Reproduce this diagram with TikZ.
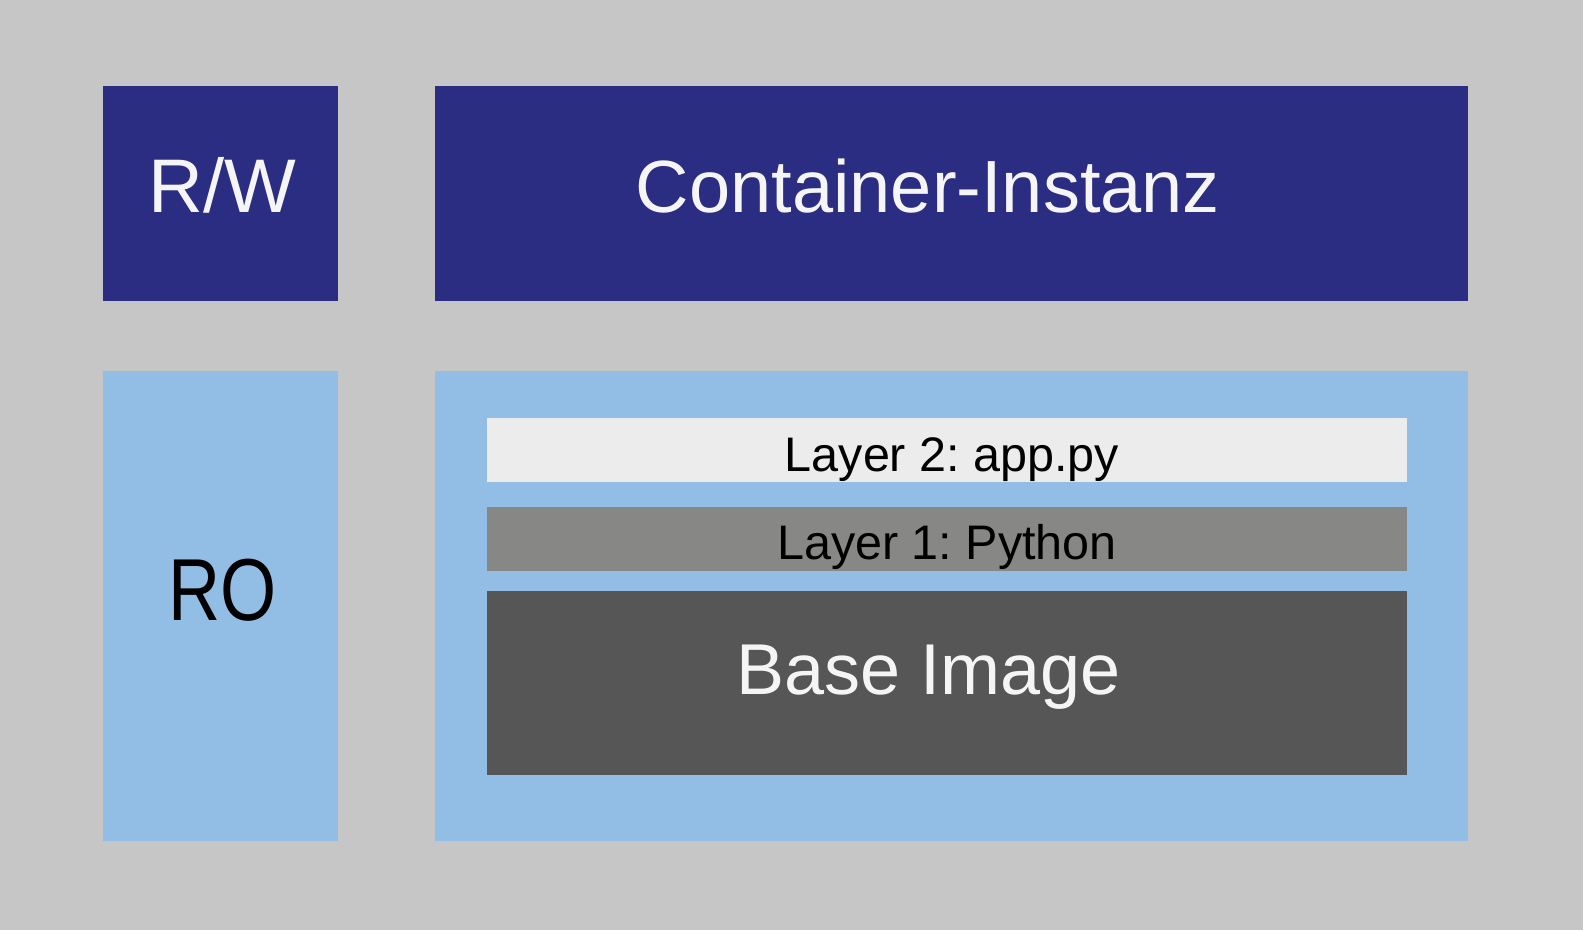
\documentclass[tikz,border=0pt]{standalone}
\usepackage{fontspec}
\setmainfont{Liberation Sans}
\newfontfamily\narrowfont[FakeStretch=0.82]{Liberation Sans}
\definecolor{bg}{HTML}{C6C6C6}
\definecolor{darkblue}{HTML}{2B2D82}
\definecolor{lightblue}{HTML}{92BEE5}
\definecolor{layertwo}{HTML}{ECECEC}
\definecolor{layerone}{HTML}{878785}
\definecolor{baseimg}{HTML}{565656}
\definecolor{offwhite}{HTML}{F5F5F5}
\begin{document}
\frenchspacing
\begin{tikzpicture}[x=1pt,y=-1pt,
  box/.style={rectangle, inner sep=0pt, outer sep=0pt, anchor=north west},
  lbl/.style={anchor=base, inner sep=0pt},
  midtext/.style={font=\fontsize{48.5}{54}\selectfont}]
\fill[bg] (0,0) rectangle (1583,930);
\useasboundingbox (0,0) rectangle (1583,930);
% top row
\node[box, fill=darkblue, minimum width=235pt, minimum height=215pt] (rw) at (103,86) {};
\node[lbl, text=offwhite, font=\fontsize{76}{80}\selectfont] (rwt) at (222,212) {R/W};
\node[box, fill=darkblue, minimum width=1033pt, minimum height=215pt] (ci) at (435,86) {};
\node[lbl, text=offwhite, font=\fontsize{74}{80}\selectfont] (cit) at (928,212) {Container-Instanz};
% bottom row
\node[box, fill=lightblue, minimum width=235pt, minimum height=470pt] (ro) at (103,371) {};
\node[lbl, text=black, font=\narrowfont\fontsize{88}{90}\selectfont] (rot) at (223,620) {RO};
\node[box, fill=lightblue, minimum width=1033pt, minimum height=470pt] (img) at (435,371) {};
% layers
\node[box, fill=layertwo, minimum width=920pt, minimum height=64pt] (l2) at (487,418) {};
\node[lbl, text=black, midtext] (l2t) at (952,471) {Layer 2: app.py};
\node[box, fill=layerone, minimum width=920pt, minimum height=64pt] (l1) at (487,507) {};
\node[lbl, text=black, midtext] (l1t) at (947,559) {Layer 1: Python};
\node[box, fill=baseimg, minimum width=920pt, minimum height=184pt] (base) at (487,591) {};
\node[lbl, text=offwhite, font=\fontsize{72}{76}\selectfont] (baset) at (929,694) {Base Image};
\end{tikzpicture}
\end{document}
